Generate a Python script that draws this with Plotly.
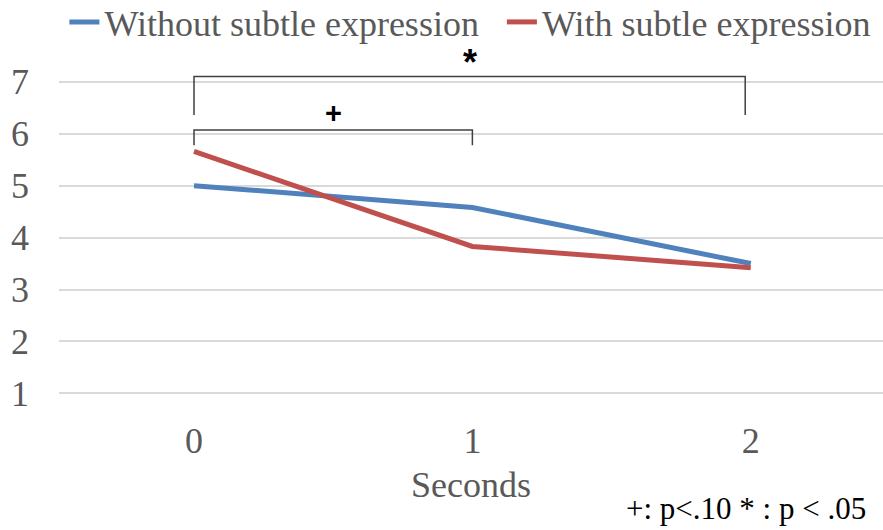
import plotly.graph_objects as go

seconds = [0, 1, 2]
tick_labels = ["0", "1", "2"]
without_subtle = [5.0, 4.58, 3.5]
with_subtle = [5.66, 3.83, 3.42]
y_ticks = [1, 2, 3, 4, 5, 6, 7]

# significance brackets: (x_start, x_end, y_top, y_bottom, label, label size, label shift)
brackets = [
    (0, 1.98, 7.1, 6.36, "*", 36, 14),
    (0, 1.0, 6.07, 5.78, "+", 29, 17),
]

GRAY = "#595959"
FONT = "Liberation Serif"

fig = go.Figure()
fig.add_trace(go.Scatter(x=seconds, y=without_subtle, mode="lines",
                         name="Without subtle expression\u00a0\u00a0",
                         line=dict(color="#4F81BD", width=5)))
fig.add_trace(go.Scatter(x=seconds, y=with_subtle, mode="lines",
                         name="With subtle expression",
                         line=dict(color="#C0504D", width=5)))

for x0, x1, yt, yb, lab, sz, sh in brackets:
    fig.add_shape(type="path",
                  path=f"M {x0},{yb} L {x0},{yt} L {x1},{yt} L {x1},{yb}",
                  xref="x", yref="y", line=dict(color="#404040", width=1.5))
    fig.add_annotation(x=(x0 + x1) / 2, y=yt, yref="y", xref="x",
                       text=f"<b>{lab}</b>", showarrow=False, yanchor="middle", yshift=sh,
                       font=dict(family="Liberation Sans", size=sz, color="black"))

fig.add_annotation(xref="paper", yref="paper", x=1.0, y=0, xanchor="right",
                   yanchor="top", xshift=-15, yshift=-93,
                   text="+: p<.10 * : p < .05", showarrow=False,
                   font=dict(family=FONT, size=31, color="black"))

fig.update_layout(
    width=883, height=530,
    margin=dict(l=59, r=0, t=61, b=134, autoexpand=False),
    paper_bgcolor="white", plot_bgcolor="white",
    font=dict(family=FONT, size=36, color=GRAY),
    showlegend=True,
    legend=dict(orientation="h", x=0.0616 + 10 / 883, xanchor="left", xref="container",
                y=1 - 22 / 530, yanchor="middle", yref="container",
                font=dict(family=FONT, size=36, color=GRAY),
                tracegroupgap=0, bgcolor="rgba(0,0,0,0)"),
    xaxis=dict(range=[-0.485, 2.475], tickvals=seconds, ticktext=tick_labels,
               showgrid=False, zeroline=False, showline=False, automargin=False,
               ticks="", ticklabelstandoff=20,
               title=dict(text="Seconds", standoff=11, font=dict(size=36, color=GRAY))),
    yaxis=dict(range=[0.95, 7.4], tickvals=y_ticks, showgrid=True, gridcolor="#D9D9D9",
               gridwidth=1.5, zeroline=False, showline=False, ticks="", automargin=False,
               ticklabelstandoff=29),
)

fig.write_html("out.html", config={"displayModeBar": False},
               post_script="document.body.style.margin='0';")
